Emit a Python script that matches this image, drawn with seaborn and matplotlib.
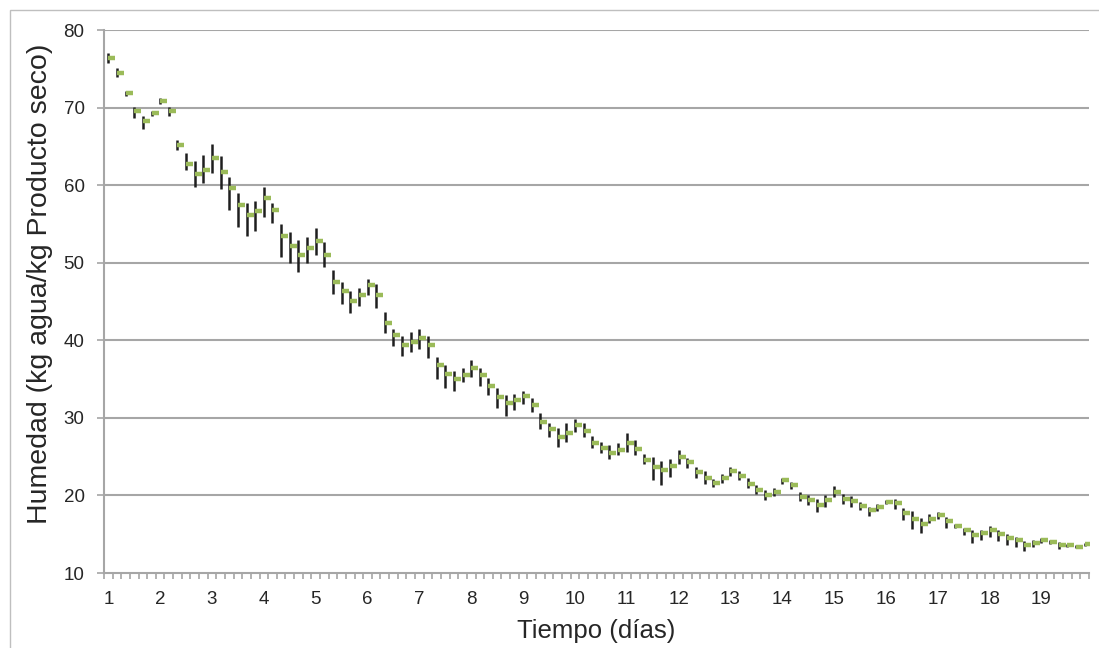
import numpy as np
import pandas as pd
import matplotlib
matplotlib.use("Agg")
import matplotlib.pyplot as plt
from matplotlib.patches import Rectangle
import seaborn as sns

# Moisture readings, six per day (every 4 h) from day 1 to day 19
cierre = [
    76.4, 74.5, 71.9, 69.6, 68.25, 69.3, 70.9, 69.6, 65.2, 62.7,
    61.4, 62.0, 63.5, 61.7, 59.6, 57.4, 56.1, 56.7, 58.3, 56.75,
    53.4, 52.1, 51.0, 51.9, 52.8, 51.0, 47.5, 46.4, 45.1, 45.9,
    47.1, 45.85, 42.2, 40.65, 39.4, 39.8, 40.3, 39.4, 36.8, 35.6,
    35.0, 35.55, 36.4, 35.55, 34.05, 32.7, 31.9, 32.3, 32.8, 31.65,
    29.5, 28.5, 27.5, 28.1, 29.1, 28.3, 26.8, 26.1, 25.5, 25.85,
    26.7, 26.0, 24.6, 23.7, 23.3, 23.8, 25.0, 24.3, 23.0, 22.25,
    21.6, 22.2, 23.2, 22.55, 21.5, 20.7, 20.0, 20.5, 22.0, 21.3,
    19.8, 19.4, 18.8, 19.4, 20.5, 19.6, 19.25, 18.6, 18.1, 18.5,
    19.1, 19.0, 17.7, 16.9, 16.35, 17.0, 17.45, 16.65, 16.1, 15.5,
    14.9, 15.2, 15.5, 15.0, 14.5, 14.2, 13.6, 13.9, 14.25, 14.0,
    13.6, 13.6, 13.4, 13.7,
]
maximo = [
    77.0, 75.1, 72.1, 70.05, 68.9, 69.6, 71.2, 70.05, 65.8, 64.2,
    63.1, 63.9, 65.3, 63.7, 61.0, 59.0, 57.7, 58.0, 59.75, 57.7,
    55.0, 54.0, 52.9, 53.3, 54.5, 52.7, 49.0, 47.5, 46.4, 46.8,
    47.9, 47.3, 43.65, 41.5, 40.5, 41.1, 41.5, 40.6, 37.9, 36.75,
    36.0, 36.4, 37.4, 36.4, 35.1, 33.8, 32.9, 33.1, 33.45, 32.55,
    30.6, 29.4, 28.7, 29.4, 29.9, 29.4, 27.7, 26.9, 26.5, 26.7,
    28.1, 27.1, 25.3, 25.0, 24.5, 24.65, 25.8, 24.8, 23.7, 23.15,
    22.1, 22.7, 23.7, 23.15, 22.2, 21.3, 20.7, 21.0, 22.3, 21.75,
    20.4, 20.0, 19.6, 20.0, 21.2, 20.15, 19.9, 19.1, 18.45, 18.9,
    19.4, 19.6, 18.35, 17.95, 17.1, 17.6, 17.8, 17.25, 16.3, 15.8,
    15.5, 15.6, 16.0, 15.5, 15.0, 14.7, 14.15, 14.3, 14.55, 14.3,
    14.0, 13.8, 13.6, 13.9,
]
minimo = [
    75.8, 73.9, 71.5, 68.6, 67.2, 68.9, 70.4, 68.9, 64.5, 61.9,
    59.75, 60.3, 61.6, 59.5, 56.8, 54.6, 53.4, 54.1, 55.85, 55.1,
    50.8, 50.0, 48.8, 50.0, 51.0, 49.5, 46.0, 44.7, 43.5, 44.4,
    45.8, 44.1, 40.9, 39.3, 38.0, 38.5, 38.9, 37.75, 35.0, 33.9,
    33.5, 34.6, 35.3, 34.1, 33.0, 31.3, 30.2, 31.0, 31.8, 30.7,
    28.6, 27.5, 26.3, 26.9, 28.2, 27.5, 26.1, 25.5, 24.75, 25.2,
    25.6, 25.2, 24.0, 22.0, 21.4, 22.4, 24.0, 23.6, 22.25, 21.5,
    21.1, 21.6, 22.5, 21.95, 20.9, 20.15, 19.4, 19.9, 21.5, 20.8,
    19.3, 18.75, 17.8, 18.5, 19.8, 18.9, 18.5, 18.1, 17.4, 17.95,
    18.9, 18.2, 16.85, 15.65, 15.2, 16.4, 17.0, 15.85, 15.8, 14.9,
    13.85, 14.3, 14.7, 14.15, 13.6, 13.4, 12.9, 13.3, 13.9, 13.7,
    13.1, 13.4, 13.2, 13.5,
]
etiquetas_dias = [str(d) for d in range(1, 20)]
lecturas_por_dia = 6

df = pd.DataFrame({
    "idx": np.arange(len(cierre)),
    "cierre": cierre,
    "max": maximo,
    "min": minimo,
})

sns.set_theme(style="white")
plt.rcParams["font.family"] = ["Liberation Sans", "DejaVu Sans"]

fig = plt.figure(figsize=(10.99, 6.48), dpi=100)
ax = fig.add_axes([104 / 1099, 75 / 648, 985 / 1099, 543 / 648])

# outer chart frame
fig.patches.append(Rectangle((10 / 1099, -0.1), 1.2, (638 / 648) + 0.1,
                             transform=fig.transFigure, fill=False,
                             edgecolor="#bfbfbf", linewidth=1.0, zorder=0))

grid_col = "#a6a6a6"
for v in range(20, 90, 10):
    ax.axhline(v, color=grid_col, linewidth=1.5, zorder=1)

# high-low bars
ax.vlines(df["idx"], df["min"], df["max"], color="#1e1e1e",
          linewidth=1.8, zorder=2)
# close ticks
sns.lineplot(data=df, x="idx", y="cierre", ax=ax, linestyle="",
             marker=1, markersize=5, markeredgewidth=3.2,
             markeredgecolor="#9bbb59", color="#9bbb59", zorder=3)

n = len(cierre)
ax.set_xlim(-0.5, n - 0.5)
ax.set_ylim(10, 80)
ax.set_yticks(range(10, 90, 10))
ax.set_xticks(np.arange(0, n, lecturas_por_dia))
ax.set_xticklabels(etiquetas_dias)
ax.set_xticks(np.arange(-0.5, n, 1), minor=True)

ax.tick_params(axis="x", which="major", length=0, pad=13,
               labelsize=13.5, labelcolor="#262626")
ax.tick_params(axis="x", which="minor", length=4, width=1.2,
               color=grid_col, direction="out", bottom=True)
ax.tick_params(axis="y", which="major", length=5, width=1.2,
               color=grid_col, direction="out", left=True, pad=9,
               labelsize=13.5, labelcolor="#262626")

for s in ["top", "right"]:
    ax.spines[s].set_visible(False)
for s in ["left", "bottom"]:
    ax.spines[s].set_color(grid_col)
    ax.spines[s].set_linewidth(1.5)

ax.set_xlabel("Tiempo (días)", fontsize=18.5, color="#262626", va="center")
ax.xaxis.set_label_coords(0.5, -(631 - 573) / 543)
ax.set_ylabel("Humedad (kg agua/kg Producto seco)", fontsize=20.5,
              color="#262626", va="center")
ax.yaxis.set_label_coords(-(104 - 40) / 985, (573 - 284) / 543)

fig.savefig("out.png", dpi=100)
